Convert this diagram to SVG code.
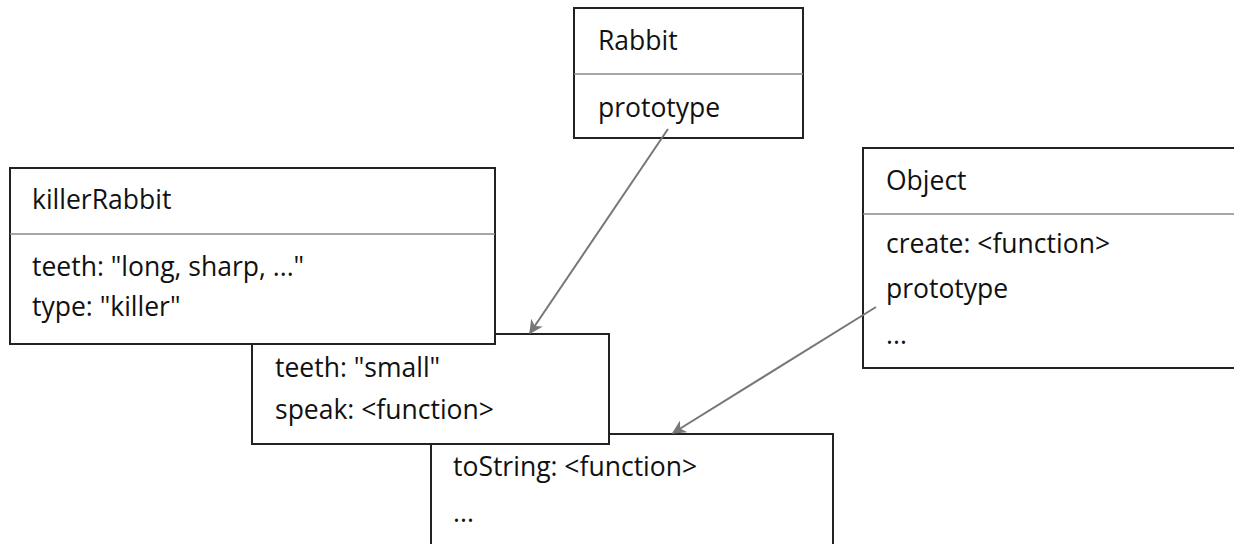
<svg xmlns="http://www.w3.org/2000/svg" width="1234" height="544" viewBox="0 0 1234 544">
<defs>
<style>
.box{fill:#fff;stroke:#222;stroke-width:2}
.div{stroke:#888;stroke-width:1.5}
.t{font-family:"Open Sans","Noto Sans",sans-serif;font-size:26.5px;fill:#111}
.arr{stroke:#777;stroke-width:2;fill:none;marker-end:url(#ah)}
</style>
<marker id="ah" viewBox="0 0 10 10" refX="9" refY="5" markerWidth="14" markerHeight="14" markerUnits="userSpaceOnUse" orient="auto">
<path d="M0,0 L10,5 L0,10 L3,5 Z" fill="#777"/>
</marker>
</defs>
<g id="objectProto">
<rect class="box" x="431" y="434" width="402" height="112"/>
<text class="t" x="453" y="476">toString: &lt;function&gt;</text>
<text class="t" x="453" y="522">...</text>
</g>
<g id="rabbitProto">
<rect class="box" x="252" y="334" width="357" height="110"/>
<text class="t" x="275" y="377">teeth: "small"</text>
<text class="t" x="275" y="419">speak: &lt;function&gt;</text>
</g>
<g id="killerRabbit">
<rect class="box" x="10" y="168" width="485" height="176"/>
<line class="div" x1="10" y1="234" x2="495" y2="234"/>
<text class="t" x="32" y="209">killerRabbit</text>
<text class="t" x="32" y="276">teeth: "long, sharp, ..."</text>
<text class="t" x="32" y="316">type: "killer"</text>
</g>
<g id="Rabbit">
<rect class="box" x="574" y="8" width="229" height="130"/>
<line class="div" x1="574" y1="74" x2="803" y2="74"/>
<text class="t" x="598" y="50">Rabbit</text>
<text class="t" x="598" y="117">prototype</text>
</g>
<g id="Object">
<rect class="box" x="863" y="148" width="380" height="220"/>
<line class="div" x1="863" y1="214" x2="1234" y2="214"/>
<text class="t" x="886" y="190">Object</text>
<text class="t" x="886" y="253">create: &lt;function&gt;</text>
<text class="t" x="886" y="298">prototype</text>
<text class="t" x="886" y="344">...</text>
</g>
<g id="connectors">
<line class="arr" x1="668" y1="129" x2="530" y2="333"/>
<line class="arr" x1="876" y1="307" x2="673" y2="433"/>
</g>
</svg>
